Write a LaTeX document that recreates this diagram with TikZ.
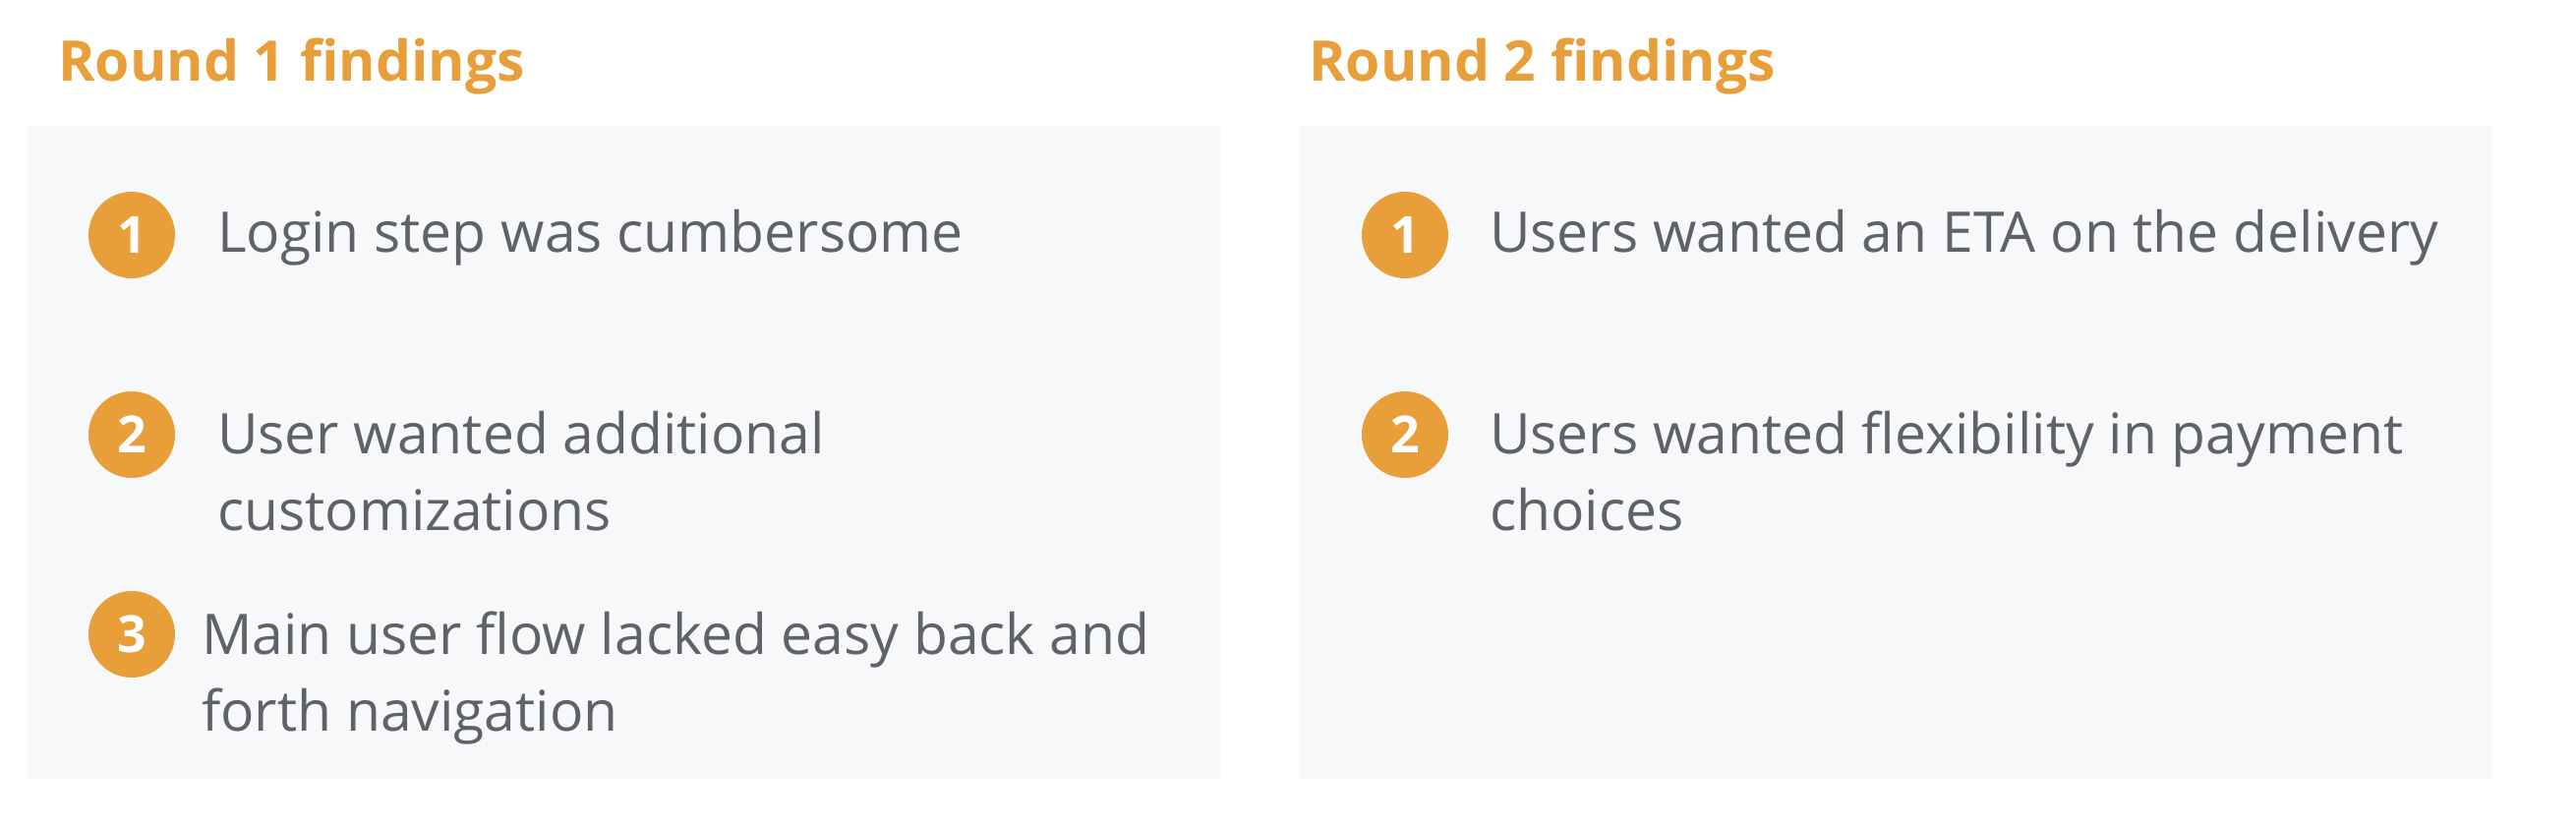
\documentclass[tikz,border=0pt]{standalone}
\usepackage{fontspec}
\setmainfont{Open Sans}
\definecolor{findorange}{HTML}{E89F3A}
\definecolor{findgray}{HTML}{5F6368}
\definecolor{panelbg}{HTML}{F7F8FA}
\begin{document}
\begin{tikzpicture}[x=1pt,y=-1pt,
    heading/.style={anchor=base west, inner sep=0pt, text=findorange,
      font=\fontsize{57}{70}\selectfont\bfseries},
    panel/.style={fill=panelbg, draw=none},
    numdot/.style={circle, fill=findorange, minimum size=88pt, inner sep=0pt,
      text=white, font=\fontsize{52}{60}\selectfont\bfseries},
    finding/.style={anchor=base west, inner sep=0pt, align=left, text=findgray,
      font=\fontsize{57}{78}\selectfont}]
    \useasboundingbox (0,0) rectangle (2620,842);

    % two-line findings are placed at the baseline of their last line
    \node[heading] (h1) at (59,83) {Round 1 findings};
    \fill[panel] (28,128) rectangle (1242,792);
    \node[numdot] (a1) at (134,239) {1};
    \node[finding] (t1) at (221,257) {Login step was cumbersome};
    \node[numdot] (a2) at (134,442) {2};
    \node[finding] (t2) at (221,539) {User wanted additional\\customizations};
    \node[numdot] (a3) at (134,645) {3};
    \node[finding] (t3) at (205,743) {Main user flow lacked easy back and\\forth navigation};

    \node[heading] (h2) at (1331,83) {Round 2 findings};
    \fill[panel] (1321,128) rectangle (2535,792);
    \node[numdot] (b1) at (1429,239) {1};
    \node[finding] (u1) at (1515,257) {Users wanted an ETA on the delivery};
    \node[numdot] (b2) at (1429,442) {2};
    \node[finding] (u2) at (1515,539) {Users wanted flexibility in payment\\choices};
\end{tikzpicture}
\end{document}
